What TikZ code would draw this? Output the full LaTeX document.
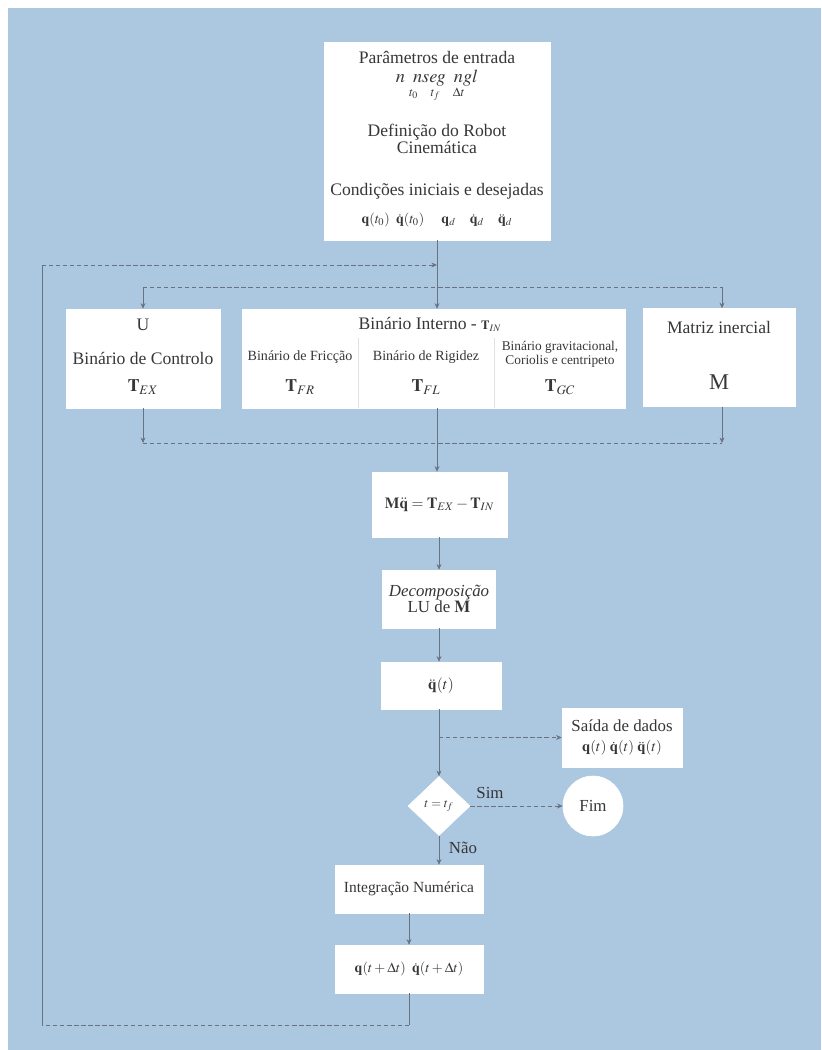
\documentclass[tikz,border=0pt]{standalone}
\usepackage{amsmath}
\usepackage{mathptmx}
\usepackage{fontspec}
\setmainfont{Liberation Serif}
\usetikzlibrary{arrows.meta,shapes.geometric,positioning,calc}
\definecolor{fundo}{RGB}{172,200,225}
\definecolor{linha}{RGB}{105,115,128}
\definecolor{texto}{RGB}{55,55,55}

\begin{document}
\begin{tikzpicture}[x=0.025cm, y=-0.025cm,
    box/.style={draw=white, fill=white, inner sep=0pt, text=texto},
    txt/.style={inner sep=0pt, text=texto, font=\fontsize{12.5}{13}\selectfont, align=center},
    small/.style={inner sep=0pt, text=texto, font=\fontsize{10}{10.5}\selectfont, align=center},
    ln/.style={draw=linha, line width=0.5pt},
    dln/.style={ln, densely dashed},
    arr/.style={ln, -{Stealth[length=4pt, width=3.5pt]}},
    darr/.style={dln, -{Stealth[length=4pt, width=3.5pt]}}
]
\useasboundingbox (0,0) rectangle (821,1050);
\fill[fundo] (8,8) rectangle (821,1050);

% entrada
\node[box, minimum width=5.65cm, minimum height=4.95cm] (entrada) at (437,141) {};
\node[txt] (par) at (437,57) {Parâmetros de entrada};
\node[txt, font=\fontsize{13}{13}\selectfont] (npar) at (437,78) {$n\;\;nseg\;\;ngl$};
\node[small, font=\fontsize{9}{9}\selectfont] (tpar) at (437,94) {$t_0\quad t_f\quad \Delta t$};
\node[txt, font=\fontsize{12.5}{10.5}\selectfont] (robot) at (437,139) {Definição do Robot\\Cinemática};
\node[txt] (cond) at (437,191) {Condições iniciais e desejadas};
\node[small] (qini) at (437,220) {$\mathbf{q}(t_0)\;\;\dot{\mathbf{q}}(t_0)\quad\;\mathbf{q}_d\quad\dot{\mathbf{q}}_d\quad\ddot{\mathbf{q}}_d$};

% binarios
\node[box, minimum width=3.85cm, minimum height=2.475cm] (ctrl) at (143,358.5) {};
\node[txt] (u) at (143,325) {U};
\node[txt] (bctrl) at (143,358) {Binário de Controlo};
\node[txt] (tex) at (143,387) {$\mathbf{T}_{EX}$};

\node[box, minimum width=9.575cm, minimum height=2.475cm] (interno) at (433.5,358.5) {};
\node[txt] (bint) at (430,324) {Binário Interno - {\fontsize{9}{9}\selectfont$\mathbf{T}_{IN}$}};
\draw[black!12] (358,338) -- (358,408) (494,338) -- (494,408);
\node[small] (bfr) at (300,357) {Binário de Fricção};
\node[txt] (tfr) at (300,387) {$\mathbf{T}_{FR}$};
\node[small] (brig) at (426,357) {Binário de Rigidez};
\node[txt] (tfl) at (426,387) {$\mathbf{T}_{FL}$};
\node[small, font=\fontsize{9.5}{8.5}\selectfont] (bgc) at (560,354) {Binário gravitacional,\\Coriolis e centripeto};
\node[txt] (tgc) at (560,387) {$\mathbf{T}_{GC}$};

\node[box, minimum width=3.8cm, minimum height=2.45cm] (inercia) at (719,357.5) {};
\node[txt] (mat) at (719,327) {Matriz inercial};
\node[txt, font=\fontsize{16}{16}\selectfont] (m) at (719,382) {M};

% distribuicao
\coordinate (split) at (437,287);
\coordinate (sl) at (143,287);
\coordinate (sr) at (722,287);
\draw[ln] (entrada.south) -- (split);
\draw[dln] (sl) -- (sr);
\draw[arr] (sl) -- (sl |- ctrl.north);
\draw[arr] (split) -- (split |- interno.north);
\draw[arr] (sr) -- (sr |- inercia.north);

% recolha
\coordinate (cl) at (143,443);
\coordinate (cr) at (722,443);
\draw[arr] (ctrl.south) -- (cl);
\draw[arr] (cr |- inercia.south) -- (cr);
\draw[dln] (cl) -- (cr);

% equacao
\node[box, minimum width=3.375cm, minimum height=1.625cm, font=\fontsize{11}{11}\selectfont] (eqmov) at (439.5,504.5) {$\mathbf{M}\ddot{\mathbf{q}}=\mathbf{T}_{EX}-\mathbf{T}_{IN}$};
\node[box, minimum width=2.825cm, minimum height=1.45cm, align=center, font=\fontsize{12}{11}\selectfont] (decomp) at (439,599) {\textit{Decomposição}\\LU de $\mathbf{M}$};
\node[box, minimum width=3cm, minimum height=1.175cm, font=\fontsize{11}{11}\selectfont] (qdd) at (441,685.5) {$\ddot{\mathbf{q}}(t)$};
\draw[arr] (split |- interno.south) -- (split |- eqmov.north);
\draw[arr] (eqmov.south -| decomp) -- (decomp.north);
\draw[arr] (decomp.south) -- (decomp.south |- qdd.north);

% saida e teste
\node[box, minimum width=3cm, minimum height=1.475cm, align=center, font=\fontsize{12}{14}\selectfont] (saida) at (622,737.5) {Saída de dados\\{\fontsize{10.5}{10.5}\selectfont$\mathbf{q}(t)\;\dot{\mathbf{q}}(t)\;\ddot{\mathbf{q}}(t)$}};
\node[box, diamond, minimum width=1.55cm, minimum height=1.475cm, font=\fontsize{9}{9}\selectfont] (teste) at (439,806) {$t=t_f$};
\node[box, circle, minimum size=1.5cm, font=\fontsize{12}{12}\selectfont] (fim) at (593,806) {Fim};
\coordinate (br) at (439,737.5);
\draw[arr] (decomp.south |- qdd.south) -- (teste.north);
\draw[darr] (br) -- (saida.west);
\draw[darr] (teste.east) -- (fim.west);
\node[txt, font=\fontsize{12}{12}\selectfont] (sim) at (490,793) {Sim};
\node[txt, font=\fontsize{12}{12}\selectfont] (nao) at (463,848) {Não};

% integracao
\node[box, minimum width=3.7cm, minimum height=1.2cm, font=\fontsize{11}{11}\selectfont] (integ) at (409,889) {Integração Numérica};
\node[box, minimum width=3.7cm, minimum height=1.2cm, font=\fontsize{10}{10}\selectfont] (qnext) at (409,969) {$\mathbf{q}(t+\Delta t)\;\;\dot{\mathbf{q}}(t+\Delta t)$};
\draw[arr] (teste.south) -- (teste.south |- integ.north);
\draw[arr] (integ.south) -- (qnext.north);

% retorno
\coordinate (lbr) at (409,1025);
\coordinate (lb) at (42,1025);
\coordinate (lt) at (42,265);
\coordinate (loopin) at (437,265);
\draw[ln] (qnext.south) -- (lbr);
\draw[dln] (lbr) -- (lb);
\draw[ln] (lb) -- (lt);
\draw[darr] (lt) -- (loopin);
\end{tikzpicture}
\end{document}
